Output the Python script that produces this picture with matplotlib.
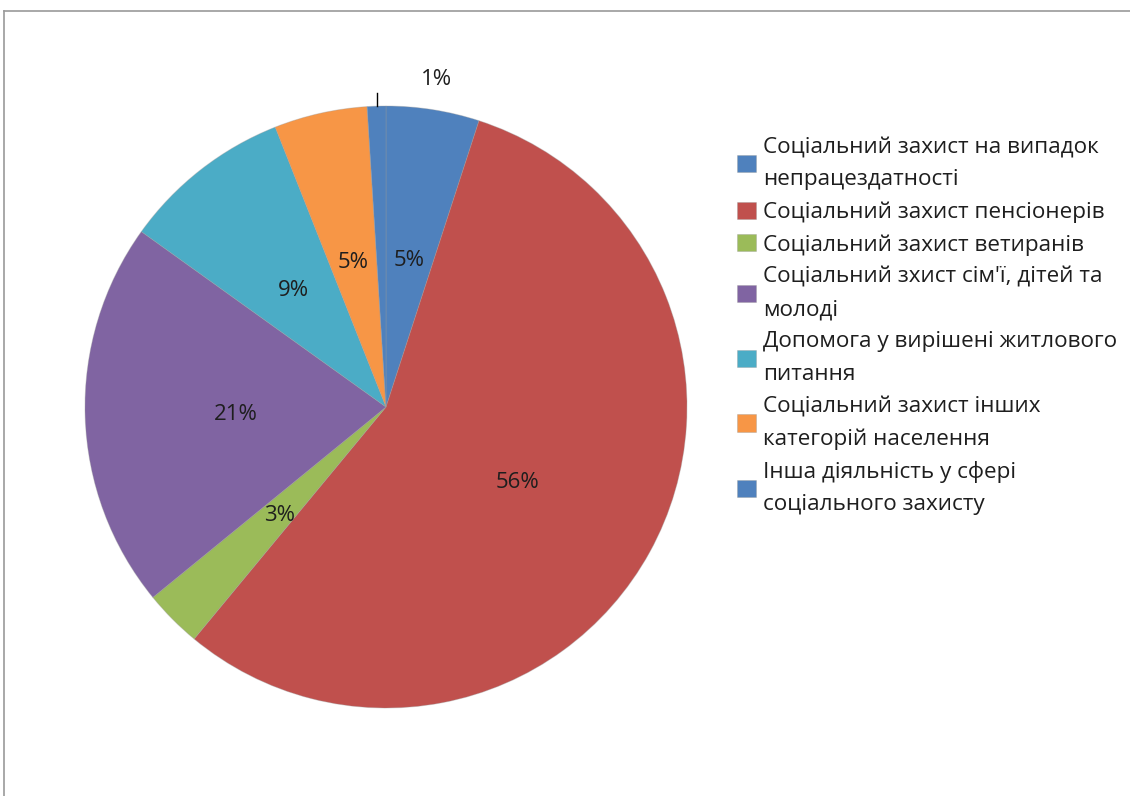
import numpy as np
import matplotlib
matplotlib.use("Agg")
from matplotlib import pyplot as plt
from matplotlib.lines import Line2D

plt.rcParams['font.family'] = ['Open Sans', 'DejaVu Sans']

# shares of spending, %
labels = [
    "Соціальний захист на випадок\nнепрацездатності",
    "Соціальний захист пенсіонерів",
    "Соціальний захист ветиранів",
    "Соціальний зхист сім'ї, дітей та\nмолоді",
    "Допомога у вирішені житлового\nпитання",
    "Соціальний захист інших\nкатегорій населення",
    "Інша діяльність у сфері\nсоціального захисту",
]
values = [5.0, 56.0, 3.1, 20.8, 9.1, 5.0, 1.0]
pct_text = ["5%", "56%", "3%", "21%", "9%", "5%", "1%"]
colors = ["#4F81BD", "#C0504D", "#9BBB59", "#8064A2", "#4BACC6", "#F79646", "#4F81BD"]

W, H = 1130, 796
fig = plt.figure(figsize=(W / 100, H / 100), dpi=100)

# pie centre ~ (386, 407) px, radius ~301 px
cx, cy, r = 386, 407, 301
ax = fig.add_axes([(cx - r) / W, (H - cy - r) / H, 2 * r / W, 2 * r / H])

wedges, _ = ax.pie(values, colors=colors, startangle=90, counterclock=False,
                   wedgeprops=dict(edgecolor=(0.6, 0.6, 0.6, 0.35), linewidth=0.7))
ax.set_xlim(-1, 1)
ax.set_ylim(-1, 1)
ax.set_aspect("equal")

text_color = "#1e1e1e"
for w, t in zip(wedges[:-1], pct_text[:-1]):
    ang = np.deg2rad((w.theta1 + w.theta2) / 2)
    ax.text(0.5 * np.cos(ang), 0.5 * np.sin(ang), t, ha="center",
            va="center_baseline", fontsize=16, color=text_color)

# small slice label outside, with a short leader
w = wedges[-1]
ang = np.deg2rad((w.theta1 + w.theta2) / 2)
x0, y0 = np.cos(ang), np.sin(ang)
ax.plot([x0, x0], [y0, y0 + 0.045], color="black", lw=1, clip_on=False)
ax.text(x0 + 0.2, y0 + 0.09, pct_text[-1], ha="center", va="center",
        fontsize=16, color=text_color, clip_on=False)

leg = fig.legend(wedges, labels, loc="upper left",
                 bbox_to_anchor=(728 / W, 1 - 128 / H), frameon=False,
                 fontsize=16.2, handlelength=0.85, handleheight=0.8,
                 handletextpad=0.3, labelspacing=0.5, borderaxespad=0)
for t in leg.get_texts():
    t.set_color(text_color)
    t.set_linespacing(1.7)

# chart-area frame (top and left edges visible)
fig.add_artist(Line2D([4 / W, 1], [1 - 11 / H, 1 - 11 / H], color="#9a9a9a", lw=1.2))
fig.add_artist(Line2D([4 / W, 4 / W], [0, 1 - 11 / H], color="#9a9a9a", lw=1.2))

fig.savefig("out.png", dpi=100, facecolor="white")
